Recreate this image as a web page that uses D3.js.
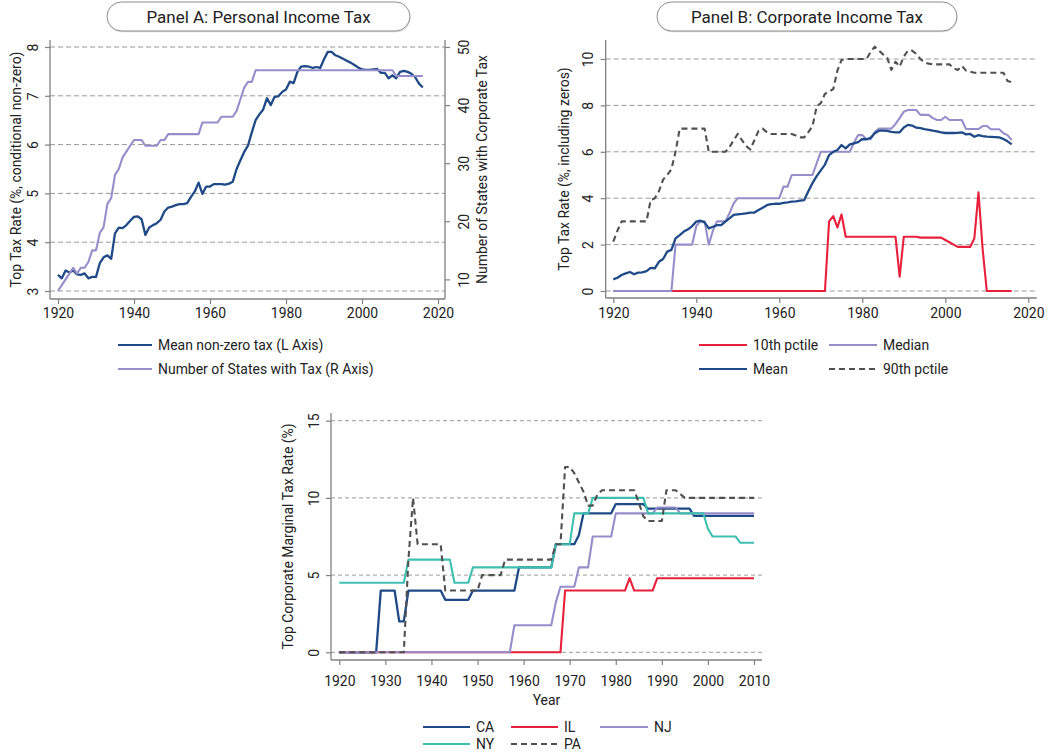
<!DOCTYPE html>
<html>
<head>
<meta charset="utf-8">
<script src="https://cdnjs.cloudflare.com/ajax/libs/d3/7.8.5/d3.min.js"></script>
<style>
  body { margin: 0; background: #fff; }
  svg { display: block; }
  text { font-family: Roboto, "Noto Sans", sans-serif; fill: #222; }
</style>
</head>
<body>
<svg id="chart" width="1053" height="754"></svg>
<script>
// ---------- data ----------
// Panel A and B: yearly series 1920-2016
const yearsAB = d3.range(1920, 2017);

// Panel A: mean non-zero personal income tax top rate (%)
const meanNonZero = [
  3.33, 3.26, 3.42, 3.38, 3.42, 3.34, 3.33, 3.36, 3.26, 3.29,
  3.29, 3.57, 3.69, 3.73, 3.66, 4.18, 4.30, 4.29, 4.35, 4.44,
  4.52, 4.53, 4.47, 4.15, 4.30, 4.35, 4.39, 4.46, 4.63, 4.71,
  4.73, 4.76, 4.78, 4.78, 4.80, 4.93, 5.04, 5.22, 4.99, 5.14,
  5.14, 5.19, 5.19, 5.19, 5.18, 5.20, 5.24, 5.50, 5.68, 5.85,
  5.98, 6.25, 6.50, 6.62, 6.72, 6.95, 6.81, 6.98, 6.99, 7.08,
  7.13, 7.29, 7.26, 7.49, 7.60, 7.61, 7.60, 7.57, 7.59, 7.57,
  7.75, 7.90, 7.90, 7.83, 7.80, 7.76, 7.72, 7.68, 7.63, 7.58,
  7.54, 7.53, 7.53, 7.54, 7.55, 7.47, 7.47, 7.36, 7.42, 7.36,
  7.49, 7.51, 7.49, 7.45, 7.38, 7.25, 7.17
];

// Panel A: number of states with the tax
const statesWithTax = [
   8,  9, 10, 11, 12, 11, 12, 12, 13, 15,
  15, 18, 19, 23, 24, 28, 29, 31, 32, 33,
  34, 34, 34, 33, 33, 33, 33, 34, 34, 35,
  35, 35, 35, 35, 35, 35, 35, 35, 37, 37,
  37, 37, 37, 38, 38, 38, 38, 39, 41, 43,
  44, 44, 46, 46, 46, 46, 46, 46, 46, 46,
  46, 46, 46, 46, 46, 46, 46, 46, 46, 46,
  46, 46, 46, 46, 46, 46, 46, 46, 46, 46,
  46, 46, 46, 46, 46, 46, 46, 46, 46, 45,
  45, 45, 45, 45, 45, 45, 45
];

// Panel B: corporate income tax top rate distribution (%, including zeros)
const p10Rate = [
  0, 0, 0, 0, 0, 0, 0, 0, 0, 0,
  0, 0, 0, 0, 0, 0, 0, 0, 0, 0,
  0, 0, 0, 0, 0, 0, 0, 0, 0, 0,
  0, 0, 0, 0, 0, 0, 0, 0, 0, 0,
  0, 0, 0, 0, 0, 0, 0, 0, 0, 0,
  0, 0, 3.00, 3.23, 2.74, 3.30, 2.34, 2.34, 2.34, 2.34,
  2.34, 2.34, 2.34, 2.34, 2.34, 2.34, 2.34, 2.34, 2.34, 0.62,
  2.34, 2.34, 2.34, 2.34, 2.30, 2.30, 2.30, 2.30, 2.30, 2.30,
  2.20, 2.10, 2.00, 1.90, 1.90, 1.90, 1.90, 2.27, 4.25, 1.80,
  0, 0, 0, 0, 0, 0, 0
];

const medianRate = [
  0, 0, 0, 0, 0, 0, 0, 0, 0, 0,
  0, 0, 0, 0, 0, 2, 2, 2, 2, 2,
  2.8, 3.0, 3.0, 2.0, 2.6, 3.0, 3.0, 3.0, 3.35, 3.78,
  4, 4, 4, 4, 4, 4, 4, 4, 4, 4,
  4.0, 4.5, 4.5, 5.0, 5.0, 5.0, 5.0, 5.0, 5.0, 5.5,
  6, 6, 6, 6, 6, 6, 6, 6, 6.4, 6.72,
  6.72, 6.54, 6.54, 6.85, 7.0, 7.0, 7.0, 7.0, 7.2, 7.45,
  7.73, 7.8, 7.8, 7.8, 7.59, 7.59, 7.59, 7.45, 7.37, 7.37,
  7.51, 7.37, 7.37, 7.37, 7.37, 6.98, 6.98, 6.98, 6.98, 7.11,
  7.11, 6.97, 6.97, 6.97, 6.8, 6.72, 6.5
];

const meanRate = [
  0.50, 0.57, 0.69, 0.76, 0.82, 0.72, 0.79, 0.80, 0.86, 1.00,
  0.98, 1.26, 1.38, 1.70, 1.77, 2.27, 2.41, 2.56, 2.66, 2.80,
  2.99, 3.03, 2.96, 2.70, 2.77, 2.84, 2.84, 2.99, 3.13, 3.28,
  3.30, 3.32, 3.35, 3.38, 3.38, 3.49, 3.59, 3.70, 3.74, 3.76,
  3.76, 3.80, 3.82, 3.85, 3.86, 3.90, 3.92, 4.30, 4.65, 4.95,
  5.20, 5.45, 5.86, 6.00, 6.08, 6.29, 6.15, 6.32, 6.36, 6.42,
  6.55, 6.54, 6.60, 6.80, 6.91, 6.91, 6.90, 6.86, 6.84, 6.84,
  7.05, 7.16, 7.13, 7.04, 7.02, 6.98, 6.95, 6.91, 6.88, 6.84,
  6.81, 6.81, 6.81, 6.82, 6.84, 6.75, 6.77, 6.65, 6.72, 6.68,
  6.65, 6.64, 6.63, 6.62, 6.55, 6.45, 6.32
];

const p90Rate = [
  2.13, 2.6, 3.0, 3.0, 3.0, 3.0, 3.0, 3.0, 3.0, 3.92,
  4.0, 4.3, 4.8, 5.0, 5.25, 6.0, 7.0, 7.0, 7.0, 7.0,
  7.0, 7.0, 7.0, 6.0, 6.0, 6.0, 6.0, 6.0, 6.2, 6.5,
  6.77, 6.5, 6.25, 6.1, 6.5, 6.9, 7.0, 6.85, 6.77, 6.77,
  6.77, 6.77, 6.77, 6.77, 6.7, 6.62, 6.62, 6.85, 7.1, 7.95,
  8.1, 8.5, 8.6, 8.7, 9.5, 9.96, 10.0, 10.0, 10.0, 10.0,
  10.0, 10.0, 10.3, 10.53, 10.36, 10.2, 10.05, 9.53, 9.88, 9.67,
  10.1, 10.36, 10.36, 10.22, 10.0, 9.85, 9.8, 9.77, 9.77, 9.77,
  9.77, 9.77, 9.6, 9.53, 9.7, 9.5, 9.45, 9.41, 9.41, 9.41,
  9.41, 9.41, 9.41, 9.41, 9.41, 9.05, 9.0
];

// Panel C: top corporate marginal tax rate by state, 1920-2010
const yearsC = d3.range(1920, 2011);

const rateCA = [
  0, 0, 0, 0, 0, 0, 0, 0, 0, 4,
  4, 4, 4, 2, 2, 4, 4, 4, 4, 4,
  4, 4, 4, 3.4, 3.4, 3.4, 3.4, 3.4, 3.4, 4,
  4, 4, 4, 4, 4, 4, 4, 4, 4, 5.5,
  5.5, 5.5, 5.5, 5.5, 5.5, 5.5, 5.5, 7, 7, 7,
  7, 7, 7.6, 9, 9, 9, 9, 9, 9, 9,
  9.6, 9.6, 9.6, 9.6, 9.6, 9.6, 9.6, 9.3, 9.3, 9.3,
  9.3, 9.3, 9.3, 9.3, 9.3, 9.3, 9.3, 8.84, 8.84, 8.84,
  8.84, 8.84, 8.84, 8.84, 8.84, 8.84, 8.84, 8.84, 8.84, 8.84,
  8.84
];

const rateIL = [
  0, 0, 0, 0, 0, 0, 0, 0, 0, 0,
  0, 0, 0, 0, 0, 0, 0, 0, 0, 0,
  0, 0, 0, 0, 0, 0, 0, 0, 0, 0,
  0, 0, 0, 0, 0, 0, 0, 0, 0, 0,
  0, 0, 0, 0, 0, 0, 0, 0, 0, 4,
  4, 4, 4, 4, 4, 4, 4, 4, 4, 4,
  4, 4, 4, 4.8, 4, 4, 4, 4, 4, 4.8,
  4.8, 4.8, 4.8, 4.8, 4.8, 4.8, 4.8, 4.8, 4.8, 4.8,
  4.8, 4.8, 4.8, 4.8, 4.8, 4.8, 4.8, 4.8, 4.8, 4.8,
  4.8
];

const rateNJ = [
  0, 0, 0, 0, 0, 0, 0, 0, 0, 0,
  0, 0, 0, 0, 0, 0, 0, 0, 0, 0,
  0, 0, 0, 0, 0, 0, 0, 0, 0, 0,
  0, 0, 0, 0, 0, 0, 0, 0, 1.75, 1.75,
  1.75, 1.75, 1.75, 1.75, 1.75, 1.75, 1.75, 3.25, 4.25, 4.25,
  4.25, 4.25, 5.5, 5.5, 5.5, 7.5, 7.5, 7.5, 7.5, 7.5,
  9, 9, 9, 9, 9, 9, 9, 9, 9, 9.375,
  9.375, 9.375, 9.375, 9.375, 9, 9, 9, 9, 9, 9,
  9, 9, 9, 9, 9, 9, 9, 9, 9, 9,
  9
];

const rateNY = [
  4.5, 4.5, 4.5, 4.5, 4.5, 4.5, 4.5, 4.5, 4.5, 4.5,
  4.5, 4.5, 4.5, 4.5, 4.5, 6, 6, 6, 6, 6,
  6, 6, 6, 6, 6, 4.5, 4.5, 4.5, 4.5, 5.5,
  5.5, 5.5, 5.5, 5.5, 5.5, 5.5, 5.5, 5.5, 5.5, 5.5,
  5.5, 5.5, 5.5, 5.5, 5.5, 5.5, 5.5, 7, 7, 7,
  7, 9, 9, 9, 9, 10, 10, 10, 10, 10,
  10, 10, 10, 10, 10, 10, 10, 9, 9, 9,
  9, 9, 9, 9, 9, 9, 9, 9, 9, 9,
  8.0, 7.5, 7.5, 7.5, 7.5, 7.5, 7.5, 7.1, 7.1, 7.1,
  7.1
];

const ratePA = [
  0, 0, 0, 0, 0, 0, 0, 0, 0, 0,
  0, 0, 0, 0, 0, 6, 10, 7, 7, 7,
  7, 7, 7, 4, 4, 4, 4, 4, 4, 4,
  4, 5, 5, 5, 5, 5, 6, 6, 6, 6,
  6, 6, 6, 6, 6, 6, 6, 7, 7, 12,
  12, 11.6, 11.0, 10.4, 9.5, 9.5, 10.2, 10.5, 10.5, 10.5,
  10.5, 10.5, 10.5, 10.5, 10.5, 9.7, 8.8, 8.5, 8.5, 8.5,
  8.5, 10.5, 10.5, 10.5, 10.25, 10, 10, 10, 10, 10,
  10, 10, 10, 10, 10, 10, 10, 10, 10, 10,
  10
];

// tick values
const ticksXAB = [1920, 1940, 1960, 1980, 2000, 2020];
const ticksYA = [3, 4, 5, 6, 7, 8];
const ticksYAR = [10, 20, 30, 40, 50];
const ticksYB = [0, 2, 4, 6, 8, 10];
const ticksXC = [1920, 1930, 1940, 1950, 1960, 1970, 1980, 1990, 2000, 2010];
const ticksYC = [0, 5, 10, 15];

// ---------- styles ----------
const C_NAVY = "#1f4a87";
const C_PURPLE = "#968ecb";
const C_RED = "#e8203c";
const C_TEAL = "#3fbfb0";
const C_DASH = "#505050";
const C_AXIS = "#808080";
const C_GRID = "#9a9a9a";
const SX = 0.9;         // horizontal squeeze giving a narrow face
const FS = 15.5;        // base font size

const svg = d3.select("#chart");

function txt(parent, x, y, s, o = {}) {
  const size = o.size || FS, rot = o.rotate || 0, sx = o.sx == null ? SX : o.sx;
  return parent.append("text")
    .attr("transform", `translate(${x},${y}) rotate(${rot}) scale(${sx},1)`)
    .attr("text-anchor", o.anchor || "start")
    .attr("dominant-baseline", o.baseline || "auto")
    .attr("font-size", size)
    .text(s);
}

function grid(g, y, ticks, x0, x1, dash) {
  g.selectAll(null).data(ticks).join("line")
    .attr("x1", x0).attr("x2", x1)
    .attr("y1", d => y(d)).attr("y2", d => y(d))
    .attr("stroke", C_GRID).attr("stroke-width", 1)
    .attr("stroke-dasharray", dash);
}

function frameLine(g, x1, y1, x2, y2) {
  g.append("line").attr("x1", x1).attr("y1", y1).attr("x2", x2).attr("y2", y2)
    .attr("stroke", C_AXIS).attr("stroke-width", 1.3);
}

function bottomAxis(g, x, yPos, ticks, labelOffset) {
  const a = g.append("g").attr("transform", `translate(0,${yPos})`)
    .call(d3.axisBottom(x).tickValues(ticks).tickFormat(d3.format("d")).tickSize(5));
  a.select(".domain").remove();
  a.selectAll(".tick line").attr("stroke", C_AXIS).attr("stroke-width", 1.2);
  a.selectAll(".tick text")
    .attr("y", null).attr("dy", null)
    .attr("font-size", FS).attr("font-family", null).attr("fill", "#222")
    .attr("dominant-baseline", "central")
    .attr("transform", `translate(0,${labelOffset}) scale(${SX},1)`);
  a.attr("font-family", null).attr("font-size", null);
}

function sideAxis(g, y, ticks, xPos, side, labelOffset) {
  const gen = side === "left" ? d3.axisLeft(y) : d3.axisRight(y);
  const a = g.append("g").attr("transform", `translate(${xPos},0)`)
    .call(gen.tickValues(ticks).tickFormat(d3.format("d")).tickSize(5));
  a.select(".domain").remove();
  a.selectAll(".tick line").attr("stroke", C_AXIS).attr("stroke-width", 1.2);
  a.selectAll(".tick text")
    .attr("x", null).attr("dy", null)
    .attr("font-size", FS).attr("font-family", null).attr("fill", "#222")
    .attr("text-anchor", "middle")
    .attr("transform", `translate(${labelOffset},0) rotate(-90) scale(${SX},1)`);
  a.attr("font-family", null).attr("font-size", null);
}

function series(g, x, y, years, values, color, o = {}) {
  const line = d3.line().x((d, i) => x(years[i])).y(d => y(d));
  g.append("path").datum(values)
    .attr("d", line)
    .attr("fill", "none")
    .attr("stroke", color)
    .attr("stroke-width", o.width || 2.1)
    .attr("stroke-linejoin", "round")
    .attr("stroke-dasharray", o.dash || null);
}

function legendItem(g, x0, x1, y, label, color, dash) {
  g.append("line").attr("x1", x0).attr("x2", x1).attr("y1", y).attr("y2", y)
    .attr("stroke", color).attr("stroke-width", 2.1)
    .attr("stroke-dasharray", dash || null);
  txt(g, x1 + 6, y, label, { baseline: "central" });
}

function titleBox(cx, w, label) {
  const h = 29, y = 2;
  svg.append("rect").attr("x", cx - w / 2 + 0.5).attr("y", y + 1.2)
    .attr("width", w).attr("height", h).attr("rx", h / 2)
    .attr("fill", "#dcdcdc");
  svg.append("rect").attr("x", cx - w / 2).attr("y", y)
    .attr("width", w).attr("height", h).attr("rx", h / 2)
    .attr("fill", "#fff").attr("stroke", "#8c8c8c").attr("stroke-width", 1);
  txt(svg, cx, y + h / 2 + 0.5, label, { size: 17, sx: 1, anchor: "middle", baseline: "central" });
}

// ---------- Panel A ----------
{
  const g = svg.append("g");
  const x = d3.scaleLinear().domain([1920, 2020]).range([58, 438]);
  const y = d3.scaleLinear().domain([3, 8]).range([291, 47]);
  const yR = d3.scaleLinear().domain([8, 50]).range([y(3), y(8)]);
  const L = 50, R = 445, T = 40, B = 299;

  grid(g, y, ticksYA, L, R, "5,3");
  series(g, x, y, yearsAB, meanNonZero, C_NAVY, { width: 2.3 });
  series(g, x, yR, yearsAB, statesWithTax, C_PURPLE);

  frameLine(g, L, T, L, B);
  frameLine(g, R, T, R, B);
  frameLine(g, L, B, R, B);
  bottomAxis(g, x, B, ticksXAB, 13.5);
  sideAxis(g, y, ticksYA, L, "left", -12);
  sideAxis(g, yR, ticksYAR, R, "right", 24);

  txt(g, 21, (T + B) / 2, "Top Tax Rate (%, conditional non-zero)", { rotate: -90, anchor: "middle" });
  txt(g, 487, (T + B) / 2, "Number of States with Corporate Tax", { rotate: -90, anchor: "middle" });

  legendItem(g, 118, 152, 345, "Mean non-zero tax (L Axis)", C_NAVY);
  legendItem(g, 118, 152, 369, "Number of States with Tax (R Axis)", C_PURPLE);
  titleBox(258.5, 303, "Panel A: Personal Income Tax");
}

// ---------- Panel B ----------
{
  const g = svg.append("g");
  const x = d3.scaleLinear().domain([1920, 2020]).range([613.3, 1028.3]);
  const y = d3.scaleLinear().domain([0, 10]).range([291, 59]);
  const L = 605.7, R = 1036.7, T = 40, B = 298;

  grid(g, y, ticksYB, L, R, "5,3");
  series(g, x, y, yearsAB, p10Rate, C_RED);
  series(g, x, y, yearsAB, medianRate, C_PURPLE);
  series(g, x, y, yearsAB, meanRate, C_NAVY, { width: 2.3 });
  series(g, x, y, yearsAB, p90Rate, C_DASH, { dash: "6,4" });

  frameLine(g, L, T, L, B);
  frameLine(g, L, B, R, B);
  bottomAxis(g, x, B, ticksXAB, 14.5);
  sideAxis(g, y, ticksYB, L, "left", -12.5);

  txt(g, 569, (T + B) / 2, "Top Tax Rate (%, including zeros)", { rotate: -90, anchor: "middle" });

  legendItem(g, 699, 747, 345, "10th pctile", C_RED);
  legendItem(g, 829, 877, 345, "Median", C_PURPLE);
  legendItem(g, 699, 747, 369, "Mean", C_NAVY);
  legendItem(g, 829, 877, 369, "90th pctile", C_DASH, "6,4");
  titleBox(807, 300, "Panel B: Corporate Income Tax");
}

// ---------- Panel C ----------
{
  const g = svg.append("g");
  const x = d3.scaleLinear().domain([1920, 2010]).range([339.3, 754]);
  const y = d3.scaleLinear().domain([0, 15]).range([652.3, 420.7]);
  const L = 331, R = 762, T = 413, B = 660;

  grid(g, y, ticksYC, L, R, "4,3");
  series(g, x, y, yearsC, rateCA, C_NAVY, { width: 2.3 });
  series(g, x, y, yearsC, rateIL, C_RED);
  series(g, x, y, yearsC, rateNJ, C_PURPLE);
  series(g, x, y, yearsC, rateNY, C_TEAL);
  series(g, x, y, yearsC, ratePA, C_DASH, { dash: "6,4" });

  frameLine(g, L, T, L, B);
  frameLine(g, L, B, R, B);
  bottomAxis(g, x, B, ticksXC, 20.5);
  sideAxis(g, y, ticksYC, L, "left", -12);

  txt(g, 293, (T + B) / 2, "Top Corporate Marginal Tax Rate (%)", { rotate: -90, anchor: "middle" });
  txt(g, (L + R) / 2, 700, "Year", { anchor: "middle", baseline: "central" });

  legendItem(g, 423, 470, 727, "CA", C_NAVY);
  legendItem(g, 511, 558, 727, "IL", C_RED);
  legendItem(g, 600, 648, 727, "NJ", C_PURPLE);
  legendItem(g, 423, 470, 744, "NY", C_TEAL);
  legendItem(g, 511, 558, 744, "PA", C_DASH, "6,4");
}
</script>
</body>
</html>
